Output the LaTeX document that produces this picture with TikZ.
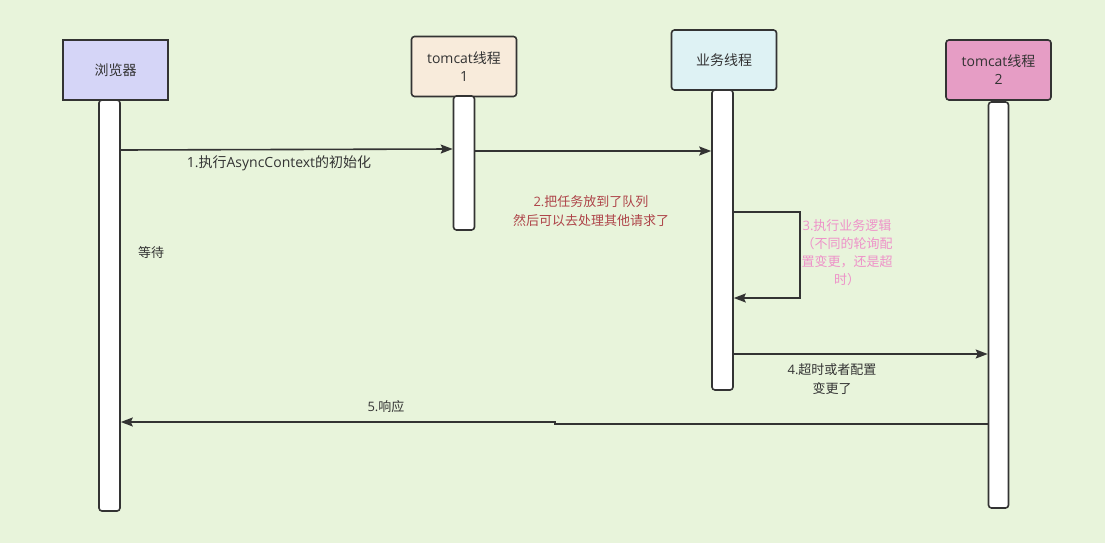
\documentclass[tikz,border=0pt]{standalone}
\usepackage{fontspec}
\setmainfont{Noto Sans CJK SC}
\newfontfamily\latn{Open Sans}
\usetikzlibrary{arrows.meta}
\definecolor{bg}{HTML}{E8F4DB}
\definecolor{ink}{HTML}{333333}
\definecolor{cbrowser}{HTML}{D5D5F7}
\definecolor{ctomcata}{HTML}{F8EBDB}
\definecolor{cbiz}{HTML}{DEF2F4}
\definecolor{ctomcatb}{HTML}{E69DC5}
\definecolor{cred}{HTML}{AE4449}
\definecolor{cpink}{HTML}{EE92C9}
\tikzset{
  actor/.style={draw=ink, line width=1.6pt, rounded corners=3pt, minimum width=105pt, minimum height=60pt, inner sep=0pt, align=center, font=\fontsize{14}{18}\selectfont, text=ink},
  life/.style={draw=ink, line width=1.6pt, fill=white, rounded corners=3pt, minimum width=21pt, inner sep=0pt},
  arr/.style={draw=ink, line width=1.6pt, -{Stealth[length=12pt,width=9pt,inset=2pt]}},
  lbl/.style={font=\fontsize{13}{19}\selectfont, text=ink, align=center, inner sep=0pt}
}
\begin{document}
\begin{tikzpicture}[x=1pt,y=-1pt]
\fill[bg] (0,0) rectangle (1105,543);
\useasboundingbox (0,0) rectangle (1105,543);
% actors
\node[actor, fill=cbrowser, rounded corners=0pt] (b) at (115.5,70) {浏览器};
\node[actor, fill=ctomcata] (t1) at (464,66.5) {{\latn tomcat}线程\\{\latn 1}};
\node[actor, fill=cbiz] (z) at (724,60) {业务线程};
\node[actor, fill=ctomcatb] (t2) at (998.5,70) {{\latn tomcat}线程\\{\latn 2}};
% lifelines
\node[life, minimum height=411pt] (bl) at (109.5,305.5) {};
\node[life, minimum height=134pt] (t1l) at (464,163) {};
\node[life, minimum height=300pt] (zl) at (722.5,240) {};
\node[life, minimum height=406pt, minimum width=20pt] (t2l) at (998.5,305) {};
% messages
\draw[arr] (bl.east |- 0,150) -- (t1l.west |- 0,149);
\node[lbl, font=\fontsize{14}{19}\selectfont] (m1) at (279,163) {{\latn 1.}执行{\latn AsyncContext}的初始化};
\draw[arr] (t1l.east |- 0,151) -- (zl.west |- 0,151);
\node[lbl, text=cred] (m2) at (591,211) {{\latn 2.}把任务放到了队列\\然后可以去处理其他请求了};
\coordinate (s1) at (800,212);
\coordinate (s2) at (800,298);
\draw[arr] (zl.east |- s1) -- (s1) -- (s2) -- (zl.east |- s2);
\node[lbl, text=cpink, font=\fontsize{13}{18}\selectfont] (m3) at (847,253) {{\latn 3.}执行业务逻辑\\（不同的轮询配\\置变更，还是超\\时）};
\draw[arr] (zl.east |- 0,354) -- (t2l.west |- 0,354);
\node[lbl] (m4) at (832,379) {{\latn 4.}超时或者配置\\变更了};
\coordinate (k1) at (555,424);
\coordinate (k2) at (555,422);
\draw[arr] (t2l.west |- k1) -- (k1) -- (k2) -- (bl.east |- k2);
\node[lbl] (m5) at (386,407) {{\latn 5.}响应};
\node[lbl] (w) at (151,253) {等待};
\end{tikzpicture}
\end{document}
